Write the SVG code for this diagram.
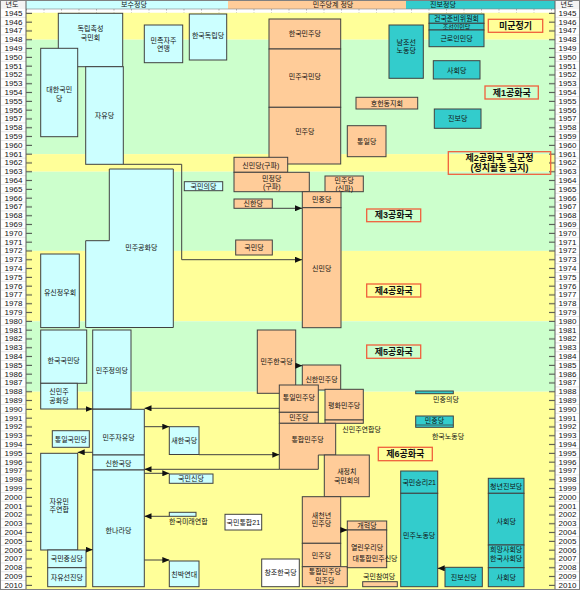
<svg xmlns="http://www.w3.org/2000/svg" width="580" height="590" viewBox="0 0 580 590">
<style>
.t{font-family:"Liberation Sans","Noto Sans CJK KR",sans-serif;font-size:7px;text-anchor:middle;dominant-baseline:central;fill:#111}
.s{text-anchor:start}
.yr{font-family:"Liberation Sans",sans-serif;font-size:8px;text-anchor:middle;dominant-baseline:central;fill:#111}
.era{font-weight:bold;font-size:9px}
.c{fill:#CCFFFF;stroke:#404040;stroke-width:1}
.d{fill:#FFCC99;stroke:#404040;stroke-width:1}
.p{fill:#33CCCC;stroke:#404040;stroke-width:1}
.w{fill:#FFFFFF;stroke:#404040;stroke-width:1}
.e{fill:none;stroke:#F0603C;stroke-width:1.3}
.ln{fill:none;stroke:#404040;stroke-width:1}
</style>
<defs>
<pattern id="rows" x="0" y="9" width="26" height="8.8" patternUnits="userSpaceOnUse">
<rect width="26" height="8.8" fill="#FFFFFF"/>
<line x1="0" y1="8.6" x2="26" y2="8.6" stroke="#C8C8C8" stroke-width="0.6"/>
</pattern>
<pattern id="ticks" x="0" y="9" width="6" height="8.8" patternUnits="userSpaceOnUse">
<line x1="0" y1="4.3" x2="6" y2="4.3" stroke="#404040" stroke-width="1"/>
</pattern>
<pattern id="ruler" x="26" y="0" width="17.5" height="4" patternUnits="userSpaceOnUse">
<rect width="17.5" height="4" fill="#FFFFFF"/>
<line x1="0.5" y1="0" x2="0.5" y2="2.5" stroke="#A0A0A0" stroke-width="0.8"/>
</pattern>
<marker id="ar" viewBox="0 0 7 6" refX="7" refY="3" markerWidth="7" markerHeight="6" markerUnits="userSpaceOnUse" orient="auto">
<path d="M0 0L7 3L0 6z" fill="#111"/>
</marker>
</defs>

<g id="background">
<rect x="0" y="0" width="580" height="590" fill="#FFFFFF"/>
<rect x="26" y="12.5" width="529" height="27.2" fill="#FFFF99"/>
<rect x="26" y="39.7" width="529" height="114.4" fill="#CCFFCC"/>
<rect x="26" y="154.1" width="529" height="17.6" fill="#FFFF99"/>
<rect x="26" y="171.7" width="529" height="79.2" fill="#CCFFCC"/>
<rect x="26" y="250.9" width="529" height="70.4" fill="#FFFF99"/>
<rect x="26" y="321.3" width="529" height="70.4" fill="#CCFFCC"/>
<rect x="26" y="391.7" width="529" height="198.3" fill="#FFFF99"/>
<rect x="26" y="9" width="529" height="3.5" fill="url(#ruler)"/>
<rect x="26" y="0" width="202" height="9" fill="#CCFFFF"/>
<rect x="228" y="0" width="178" height="9" fill="#FFCC99"/>
<rect x="406" y="0" width="149" height="9" fill="#33CCCC"/>
<line x1="26" y1="9" x2="555" y2="9" stroke="#808080" stroke-width="0.6"/>
<text class="t" x="134" y="4.5">보수정당</text>
<text class="t" x="333" y="4.5">민주당계 정당</text>
<text class="t" x="443" y="4.5">진보정당</text>
<rect x="0" y="9" width="26" height="581" fill="url(#rows)"/>
<rect x="555" y="9" width="25" height="581" fill="url(#rows)"/>
<rect x="0" y="0" width="26" height="9" fill="#F4F4F4"/>
<rect x="555" y="0" width="25" height="9" fill="#F4F4F4"/>
<text class="t" x="12" y="4.5">년도</text>
<text class="t" x="567" y="4.5">년도</text>
<rect x="26" y="9" width="6" height="581" fill="url(#ticks)"/>
<rect x="549" y="9" width="6" height="581" fill="url(#ticks)"/>
<line x1="26" y1="0" x2="26" y2="590" stroke="#606060" stroke-width="1"/>
<line x1="555" y1="0" x2="555" y2="590" stroke="#606060" stroke-width="1"/>
<rect x="0.5" y="0.5" width="579" height="589" fill="none" stroke="#808080" stroke-width="1"/>
</g>

<g id="years-left">
<text class="yr" x="13.5" y="13.3">1945</text><text class="yr" x="13.5" y="22.1">1946</text><text class="yr" x="13.5" y="30.9">1947</text><text class="yr" x="13.5" y="39.7">1948</text><text class="yr" x="13.5" y="48.5">1949</text><text class="yr" x="13.5" y="57.3">1950</text><text class="yr" x="13.5" y="66.1">1951</text><text class="yr" x="13.5" y="74.9">1952</text><text class="yr" x="13.5" y="83.7">1953</text><text class="yr" x="13.5" y="92.5">1954</text><text class="yr" x="13.5" y="101.3">1955</text><text class="yr" x="13.5" y="110.1">1956</text><text class="yr" x="13.5" y="118.9">1957</text><text class="yr" x="13.5" y="127.7">1958</text><text class="yr" x="13.5" y="136.5">1959</text><text class="yr" x="13.5" y="145.3">1960</text><text class="yr" x="13.5" y="154.1">1961</text><text class="yr" x="13.5" y="162.9">1962</text><text class="yr" x="13.5" y="171.7">1963</text><text class="yr" x="13.5" y="180.5">1964</text><text class="yr" x="13.5" y="189.3">1965</text><text class="yr" x="13.5" y="198.1">1966</text><text class="yr" x="13.5" y="206.9">1967</text><text class="yr" x="13.5" y="215.7">1968</text><text class="yr" x="13.5" y="224.5">1969</text><text class="yr" x="13.5" y="233.3">1970</text><text class="yr" x="13.5" y="242.1">1971</text><text class="yr" x="13.5" y="250.9">1972</text><text class="yr" x="13.5" y="259.7">1973</text><text class="yr" x="13.5" y="268.5">1974</text><text class="yr" x="13.5" y="277.3">1975</text><text class="yr" x="13.5" y="286.1">1976</text><text class="yr" x="13.5" y="294.9">1977</text><text class="yr" x="13.5" y="303.7">1978</text><text class="yr" x="13.5" y="312.5">1979</text><text class="yr" x="13.5" y="321.3">1980</text><text class="yr" x="13.5" y="330.1">1981</text><text class="yr" x="13.5" y="338.9">1982</text><text class="yr" x="13.5" y="347.7">1983</text><text class="yr" x="13.5" y="356.5">1984</text><text class="yr" x="13.5" y="365.3">1985</text><text class="yr" x="13.5" y="374.1">1986</text><text class="yr" x="13.5" y="382.9">1987</text><text class="yr" x="13.5" y="391.7">1988</text><text class="yr" x="13.5" y="400.5">1989</text><text class="yr" x="13.5" y="409.3">1990</text><text class="yr" x="13.5" y="418.1">1991</text><text class="yr" x="13.5" y="426.9">1992</text><text class="yr" x="13.5" y="435.7">1993</text><text class="yr" x="13.5" y="444.5">1994</text><text class="yr" x="13.5" y="453.3">1995</text><text class="yr" x="13.5" y="462.1">1996</text><text class="yr" x="13.5" y="470.9">1997</text><text class="yr" x="13.5" y="479.7">1998</text><text class="yr" x="13.5" y="488.5">1999</text><text class="yr" x="13.5" y="497.3">2000</text><text class="yr" x="13.5" y="506.1">2001</text><text class="yr" x="13.5" y="514.9">2002</text><text class="yr" x="13.5" y="523.7">2003</text><text class="yr" x="13.5" y="532.5">2004</text><text class="yr" x="13.5" y="541.3">2005</text><text class="yr" x="13.5" y="550.1">2006</text><text class="yr" x="13.5" y="558.9">2007</text><text class="yr" x="13.5" y="567.7">2008</text><text class="yr" x="13.5" y="576.5">2009</text><text class="yr" x="13.5" y="585.3">2010</text>
</g>
<g id="years-right">
<text class="yr" x="567.5" y="13.3">1945</text><text class="yr" x="567.5" y="22.1">1946</text><text class="yr" x="567.5" y="30.9">1947</text><text class="yr" x="567.5" y="39.7">1948</text><text class="yr" x="567.5" y="48.5">1949</text><text class="yr" x="567.5" y="57.3">1950</text><text class="yr" x="567.5" y="66.1">1951</text><text class="yr" x="567.5" y="74.9">1952</text><text class="yr" x="567.5" y="83.7">1953</text><text class="yr" x="567.5" y="92.5">1954</text><text class="yr" x="567.5" y="101.3">1955</text><text class="yr" x="567.5" y="110.1">1956</text><text class="yr" x="567.5" y="118.9">1957</text><text class="yr" x="567.5" y="127.7">1958</text><text class="yr" x="567.5" y="136.5">1959</text><text class="yr" x="567.5" y="145.3">1960</text><text class="yr" x="567.5" y="154.1">1961</text><text class="yr" x="567.5" y="162.9">1962</text><text class="yr" x="567.5" y="171.7">1963</text><text class="yr" x="567.5" y="180.5">1964</text><text class="yr" x="567.5" y="189.3">1965</text><text class="yr" x="567.5" y="198.1">1966</text><text class="yr" x="567.5" y="206.9">1967</text><text class="yr" x="567.5" y="215.7">1968</text><text class="yr" x="567.5" y="224.5">1969</text><text class="yr" x="567.5" y="233.3">1970</text><text class="yr" x="567.5" y="242.1">1971</text><text class="yr" x="567.5" y="250.9">1972</text><text class="yr" x="567.5" y="259.7">1973</text><text class="yr" x="567.5" y="268.5">1974</text><text class="yr" x="567.5" y="277.3">1975</text><text class="yr" x="567.5" y="286.1">1976</text><text class="yr" x="567.5" y="294.9">1977</text><text class="yr" x="567.5" y="303.7">1978</text><text class="yr" x="567.5" y="312.5">1979</text><text class="yr" x="567.5" y="321.3">1980</text><text class="yr" x="567.5" y="330.1">1981</text><text class="yr" x="567.5" y="338.9">1982</text><text class="yr" x="567.5" y="347.7">1983</text><text class="yr" x="567.5" y="356.5">1984</text><text class="yr" x="567.5" y="365.3">1985</text><text class="yr" x="567.5" y="374.1">1986</text><text class="yr" x="567.5" y="382.9">1987</text><text class="yr" x="567.5" y="391.7">1988</text><text class="yr" x="567.5" y="400.5">1989</text><text class="yr" x="567.5" y="409.3">1990</text><text class="yr" x="567.5" y="418.1">1991</text><text class="yr" x="567.5" y="426.9">1992</text><text class="yr" x="567.5" y="435.7">1993</text><text class="yr" x="567.5" y="444.5">1994</text><text class="yr" x="567.5" y="453.3">1995</text><text class="yr" x="567.5" y="462.1">1996</text><text class="yr" x="567.5" y="470.9">1997</text><text class="yr" x="567.5" y="479.7">1998</text><text class="yr" x="567.5" y="488.5">1999</text><text class="yr" x="567.5" y="497.3">2000</text><text class="yr" x="567.5" y="506.1">2001</text><text class="yr" x="567.5" y="514.9">2002</text><text class="yr" x="567.5" y="523.7">2003</text><text class="yr" x="567.5" y="532.5">2004</text><text class="yr" x="567.5" y="541.3">2005</text><text class="yr" x="567.5" y="550.1">2006</text><text class="yr" x="567.5" y="558.9">2007</text><text class="yr" x="567.5" y="567.7">2008</text><text class="yr" x="567.5" y="576.5">2009</text><text class="yr" x="567.5" y="585.3">2010</text>
</g>

<g id="eras">
<g id="e-usmg"><rect class="e" x="488.3" y="19.3" width="54.4" height="13"/><text class="t era" x="515.5" y="26">미군정기</text></g>
<g id="e-1"><rect class="e" x="485" y="86" width="53.3" height="13"/><text class="t era" x="511.7" y="92.5">제1공화국</text></g>
<g id="e-2"><rect class="e" x="448.3" y="151.7" width="102.4" height="22.6"/><text class="t era" x="499.5" y="157.5">제2공화국 및 군정</text><text class="t era" x="499.5" y="168">(정치활동 금지)</text></g>
<g id="e-3"><rect class="e" x="366.7" y="209" width="54" height="12.7"/><text class="t era" x="393.7" y="215.3">제3공화국</text></g>
<g id="e-4"><rect class="e" x="366.7" y="284" width="54" height="13"/><text class="t era" x="393.7" y="290.5">제4공화국</text></g>
<g id="e-5"><rect class="e" x="366.7" y="345" width="54" height="13.3"/><text class="t era" x="393.7" y="351.7">제5공화국</text></g>
<g id="e-6"><rect class="e" x="378.3" y="447.3" width="54" height="13.4"/><text class="t era" x="405.3" y="454">제6공화국</text></g>
</g>

<g id="conservative">
<g id="n-dokrip"><rect class="c" x="58.3" y="13.3" width="64.4" height="53.4"/><text class="t" x="90.5" y="28">독립촉성</text><text class="t" x="90.5" y="37">국민회</text></g>
<g id="n-daehan"><rect class="c" x="40.7" y="48.3" width="37" height="88.4"/><text class="t" x="59.2" y="89">대한국민</text><text class="t" x="59.2" y="98">당</text></g>
<g id="n-jayu"><rect class="c" x="85.7" y="66.7" width="37.6" height="97.6"/><text class="t" x="104.5" y="115">자유당</text></g>
<g id="n-minjokjaju"><rect class="c" x="144.3" y="25" width="38.4" height="37.7"/><text class="t" x="163.5" y="40">민족자주</text><text class="t" x="163.5" y="48.5">연맹</text></g>
<g id="n-hankukdokrip"><rect class="c" x="189.3" y="14" width="37.4" height="46"/><text class="t" x="208" y="35.5">한국독립당</text></g>
<g id="n-gonghwa"><path class="c" d="M109.3 169H173.3V327.5H85.7V240.7H109.3Z"/><text class="t" x="141.3" y="247.7">민주공화당</text></g>
<g id="n-kukminui"><rect class="c" x="184.3" y="181.7" width="38.4" height="9"/><text class="t" x="203.5" y="186.2">국민의당</text></g>
<g id="n-yusin"><rect class="c" x="40.7" y="254" width="38.6" height="73.6"/><text class="t" x="60" y="292">유신정우회</text></g>
<g id="n-hankukkukmin"><rect class="c" x="40.7" y="330" width="46" height="53.3"/><text class="t" x="63.7" y="360">한국국민당</text></g>
<g id="n-sinminjugonghwa"><rect class="c" x="40.7" y="383.3" width="36.6" height="25.7"/><text class="t" x="59" y="391.7">신민주</text><text class="t" x="59" y="400.5">공화당</text></g>
<g id="n-minjeong"><rect class="c" x="92.7" y="330" width="38.3" height="79"/><text class="t" x="111.8" y="370">민주정의당</text></g>
<g id="n-minja"><rect class="c" x="92.7" y="409.3" width="51.6" height="45.7"/><text class="t" x="118.5" y="437">민주자유당</text></g>
<g id="n-sinhankuk"><rect class="c" x="92.7" y="455" width="51.6" height="15"/><text class="t" x="118.5" y="463">신한국당</text></g>
<g id="n-hannara"><rect class="c" x="92.7" y="470" width="51.6" height="116.7"/><text class="t" x="118.5" y="530">한나라당</text></g>
<g id="n-saehankuk"><rect class="c" x="169.3" y="426.7" width="29.7" height="27.8"/><text class="t" x="184.2" y="440.5">새한국당</text></g>
<g id="n-tongilkukmin"><rect class="c" x="52.3" y="430.7" width="37" height="16.6"/><text class="t" x="70.8" y="439">통일국민당</text></g>
<g id="n-jamin"><rect class="c" x="40.7" y="453.3" width="37" height="96.7"/><text class="t" x="59.2" y="501">자유민</text><text class="t" x="59.2" y="509">주연합</text></g>
<g id="n-kukminjungsim"><rect class="c" x="47.7" y="550" width="38.3" height="17.7"/><text class="t" x="66.8" y="558.8">국민중심당</text></g>
<g id="n-jayuseonjin"><rect class="c" x="47.7" y="567.7" width="38.3" height="19"/><text class="t" x="66.8" y="577.2">자유선진당</text></g>
<g id="n-kukminsin"><rect class="c" x="169.3" y="474" width="43.7" height="9.3"/><text class="t" x="191" y="478.7">국민신당</text></g>
<g id="n-hankukmirae"><rect class="c" x="169.3" y="512.3" width="26.7" height="4"/><text class="t s" x="169" y="521.7">한국미래연합</text></g>
<g id="n-chinbak"><rect class="c" x="169.3" y="561" width="29.7" height="25.7"/><text class="t" x="184.2" y="574">친박연대</text></g>
<g id="n-kukmintonghap21"><rect class="w" x="225" y="514.3" width="36.7" height="15.7"/><text class="t" x="243.3" y="522">국민통합21</text></g>
<g id="n-changjo"><rect class="w" x="261.7" y="559" width="37.6" height="27.7"/><text class="t" x="280.5" y="572.5">창조한국당</text></g>
</g>

<g id="democratic">
<g id="n-hankukminju"><rect class="d" x="269" y="19" width="71.7" height="30"/><text class="t" x="304.8" y="33.3">한국민주당</text></g>
<g id="n-minjukukmin"><rect class="d" x="269" y="49" width="71.7" height="58.3"/><text class="t" x="304.8" y="76">민주국민당</text></g>
<g id="n-minju55"><rect class="d" x="269" y="107.3" width="71.7" height="56.7"/><text class="t" x="304.8" y="131.7">민주당</text></g>
<g id="n-tongil"><rect class="d" x="347.3" y="125.7" width="38.7" height="31"/><text class="t" x="366.7" y="141">통일당</text></g>
<g id="n-hoheon"><rect class="d" x="356" y="97.3" width="61.7" height="11.7"/><text class="t" x="386.8" y="103.3">호헌동지회</text></g>
<g id="n-sinmin-gupa"><rect class="d" x="234" y="157.3" width="53.7" height="15"/><text class="t" x="260.8" y="165">신민당(구파)</text></g>
<g id="n-minjeong-gupa"><rect class="d" x="234" y="172.3" width="75.3" height="19.4"/><text class="t" x="271.7" y="178">민정당</text><text class="t" x="271.7" y="186.5">(구파)</text></g>
<g id="n-minju-sinpa"><rect class="d" x="325" y="176" width="38.3" height="15.7"/><text class="t" x="344.2" y="180.3">민주당</text><text class="t" x="344.2" y="188">(신파)</text></g>
<g id="n-minjung65"><rect class="d" x="302.3" y="191.7" width="38.7" height="16"/><text class="t" x="321.7" y="199.7">민중당</text></g>
<g id="n-sinmin"><rect class="d" x="302.3" y="207.7" width="38.7" height="120"/><text class="t" x="321.7" y="268.3">신민당</text></g>
<g id="n-sinhan"><rect class="d" x="234" y="199" width="38.3" height="9.3"/><text class="t" x="253.2" y="203.7">신한당</text></g>
<g id="n-kukmin"><rect class="d" x="235.7" y="240" width="36.6" height="15"/><text class="t" x="254" y="247.7">국민당</text></g>
<g id="n-minhan"><rect class="d" x="257.3" y="330" width="38.4" height="63.3"/><text class="t" x="276.5" y="361.7">민주한국당</text></g>
<g id="n-sinhanminju"><rect class="d" x="302.3" y="365" width="38.4" height="25"/><text class="t" x="321.5" y="379.3">신한민주당</text></g>
<g id="n-pyeonghwa"><rect class="d" x="325" y="389.3" width="38.3" height="30.7"/><text class="t" x="344.2" y="405">평화민주당</text></g>
<g id="n-sinminjuyeonhap"><rect class="d" x="325" y="420" width="38.3" height="3.3"/><text class="t s" x="342.3" y="429.3">신민주연합당</text></g>
<g id="n-tongilminju"><rect class="d" x="279.3" y="385" width="39" height="27.3"/><text class="t" x="298.8" y="397.7">통일민주당</text></g>
<g id="n-minju90"><rect class="d" x="279.3" y="412.3" width="39" height="11"/><text class="t" x="298.8" y="417.8">민주당</text></g>
<g id="n-tonghapminju91"><path class="d" d="M279.3 423.3H335.7V455H318.3V469.3H279.3Z"/><text class="t" x="307.5" y="439">통합민주당</text></g>
<g id="n-saejeongchi"><rect class="d" x="324.3" y="455" width="45" height="41.7"/><text class="t" x="346.8" y="471">새정치</text><text class="t" x="346.8" y="480">국민회의</text></g>
<g id="n-saecheonnyeon"><rect class="d" x="302.3" y="496.7" width="38.4" height="46.6"/><text class="t" x="321.5" y="515">새천년</text><text class="t" x="321.5" y="523.5">민주당</text></g>
<g id="n-minju05"><rect class="d" x="302.3" y="543.3" width="38.4" height="23.4"/><text class="t" x="321.5" y="555">민주당</text></g>
<g id="n-tonghapminju08"><rect class="d" x="302.3" y="566.7" width="45" height="20"/><text class="t" x="324.8" y="571.5">통합민주당</text><text class="t" x="324.8" y="580.5">민주당</text></g>
<g id="n-gaehyeok"><rect class="d" x="347.3" y="521" width="39.4" height="9"/><text class="t" x="367" y="525.8">개혁당</text></g>
<g id="n-yeollinuri"><rect class="d" x="347.3" y="530" width="39.4" height="37.7"/><text class="t" x="367" y="547.3">열린우리당</text><text class="t" x="375" y="558.3">대통합민주신당</text></g>
<g id="n-kukminchamyeo"><rect class="d" x="362.7" y="581.7" width="34.6" height="5"/><text class="t s" x="363" y="576">국민참여당</text></g>
</g>

<g id="progressive">
<g id="n-geonjun"><rect class="p" x="429" y="14" width="55" height="9.3"/><text class="t" x="456.5" y="18.8">건국준비위원회</text></g>
<g id="n-joseoninmin"><rect class="p" x="429" y="23.3" width="55" height="6.7"/><text class="t" x="456.5" y="26.7" style="font-size:6px">조선인민당</text></g>
<g id="n-geunroinmin"><rect class="p" x="429" y="30" width="55" height="16.7"/><text class="t" x="456.5" y="38">근로인민당</text></g>
<g id="n-namnodang"><rect class="p" x="389" y="25" width="34.3" height="53.3"/><text class="t" x="406.2" y="42.5">남조선</text><text class="t" x="406.2" y="50.5">노동당</text></g>
<g id="n-sahoe50"><rect class="p" x="433.3" y="60.7" width="46.7" height="18.3"/><text class="t" x="456.7" y="70">사회당</text></g>
<g id="n-jinbo"><rect class="p" x="434.3" y="109" width="46.7" height="19.3"/><text class="t" x="457.7" y="118.5">진보당</text></g>
<g id="n-minjungui"><rect class="p" x="415.7" y="391" width="37.6" height="2.7"/><text class="t" x="446" y="399">민중의당</text></g>
<g id="n-minjung90"><rect class="p" x="415.7" y="416" width="37.6" height="11.3"/><line x1="415.7" y1="425" x2="453.3" y2="425" stroke="#404040" stroke-width="0.8"/><text class="t" x="434.5" y="420.5">민중당</text><text class="t" x="448" y="436">한국노동당</text></g>
<g id="n-kukminseungri"><rect class="p" x="400.7" y="471" width="37" height="22.3"/><text class="t" x="419.2" y="482.3">국민승리21</text></g>
<g id="n-minnodang"><rect class="p" x="400.7" y="493.3" width="37" height="93.4"/><text class="t" x="419.2" y="535">민주노동당</text></g>
<g id="n-jinbosin"><rect class="p" x="445" y="567.3" width="37.3" height="19.4"/><text class="t" x="463.7" y="577">진보신당</text></g>
<g id="n-cheongnyeon"><rect class="p" x="488.3" y="478.3" width="35.7" height="15"/><text class="t" x="506.2" y="486">청년진보당</text></g>
<g id="n-sahoe00"><rect class="p" x="488.3" y="493.3" width="35.7" height="51.7"/><text class="t" x="506.2" y="521.7">사회당</text></g>
<g id="n-huimang"><rect class="p" x="488.3" y="545" width="35.7" height="22.7"/><text class="t" x="506.2" y="549.7">희망사회당</text><text class="t" x="506.2" y="558.5">한국사회당</text></g>
<g id="n-sahoe08"><rect class="p" x="488.3" y="567.7" width="35.7" height="19"/><text class="t" x="506.2" y="577">사회당</text></g>
</g>

<g id="connectors">
<path class="ln" d="M123.3 164.3H181.7V259.7H302" marker-end="url(#ar)"/>
<path class="ln" d="M272.3 208.3H302" marker-end="url(#ar)"/>
<path class="ln" d="M295.7 365.7H302.3" marker-end="url(#ar)"/>
<path class="ln" d="M77.3 409H92.7" marker-end="url(#ar)"/>
<path class="ln" d="M279.3 408.3H144.5" marker-end="url(#ar)"/>
<path class="ln" d="M144.3 426.7H169.3" marker-end="url(#ar)"/>
<path class="ln" d="M92.7 452.3H77.7" marker-end="url(#ar)"/>
<path class="ln" d="M199 454.7H279.3" marker-end="url(#ar)"/>
<path class="ln" d="M279.3 469.3H144.5" marker-end="url(#ar)"/>
<path class="ln" d="M144.3 473.3H169.3" marker-end="url(#ar)"/>
<path class="ln" d="M169.3 516.3H144.5" marker-end="url(#ar)"/>
<path class="ln" d="M86 549.7H92.7" marker-end="url(#ar)"/>
<path class="ln" d="M144.3 560H169.3" marker-end="url(#ar)"/>
<path class="ln" d="M340.7 530H347.3" marker-end="url(#ar)"/>
<path class="ln" d="M445 568.3H437.7" marker-end="url(#ar)"/>
</g>
</svg>
